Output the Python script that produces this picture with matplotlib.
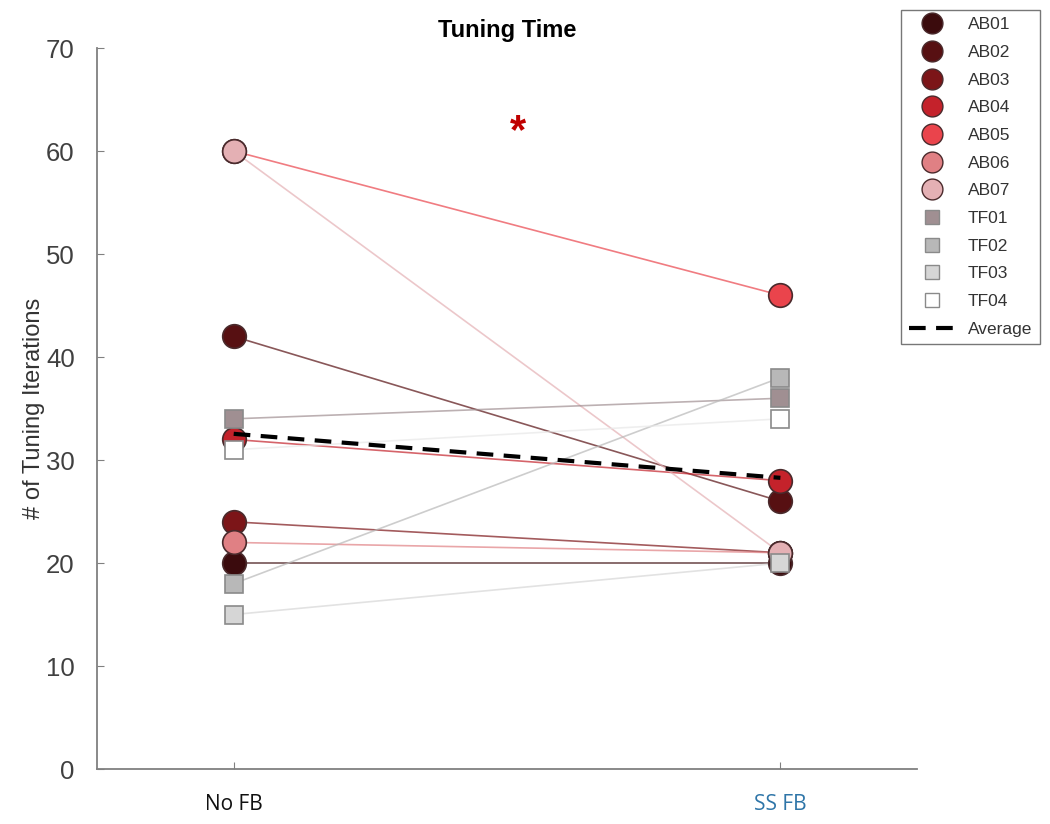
import numpy as np
import matplotlib
matplotlib.use("Agg")
import matplotlib.pyplot as plt
from matplotlib.lines import Line2D

plt.rcParams['font.family'] = ['Liberation Sans', 'DejaVu Sans']

# conditions
conditions = ['No FB', 'SS FB']

# subjects and their tuning iterations (No FB, SS FB)
subjects = ['AB01', 'AB02', 'AB03', 'AB04', 'AB05', 'AB06', 'AB07',
            'TF01', 'TF02', 'TF03', 'TF04']
no_fb = [20, 42, 24, 32, 60, 22, 60, 34, 18, 15, 31]
ss_fb = [20, 26, 21, 28, 46, 21, 21, 36, 38, 20, 34]

colors = ['#3b0b0d', '#571012', '#7c1518', '#c4222b', '#ea444c', '#e08084', '#e4b0b4',
          '#a08f92', '#b8b8b8', '#d6d6d6', '#ffffff']
markers = ['o'] * 7 + ['s'] * 4

# average line
avg = [np.mean(no_fb), np.mean(ss_fb)]

fig = plt.figure(figsize=(10.5, 8.24), dpi=100)
ax = fig.add_axes([0.0924, 0.0667, 0.781, 0.875])

x = [1, 2]
handles = []
for i, name in enumerate(subjects):
    is_ab = markers[i] == 'o'
    line_col = colors[i] if colors[i] != '#ffffff' else '#e8e8e8'
    ax.plot(x, [no_fb[i], ss_fb[i]], color=line_col, lw=1.2, alpha=0.7, zorder=2)
    ms = 17 if is_ab else 12.5
    edge = '#4a2a2c' if is_ab else '#8a8a8a'
    ax.plot(x, [no_fb[i], ss_fb[i]], linestyle='none', marker=markers[i], ms=ms,
            mfc=colors[i], mec=edge, mew=1.2, zorder=3 + i * 0.01)
    handles.append(Line2D([], [], linestyle='none', marker=markers[i],
                          ms=15 if is_ab else 10, mfc=colors[i], mec=edge, mew=1.0,
                          label=name))

ax.plot(x, avg, color='black', lw=3, linestyle=(0, (4, 2.5)), zorder=5)
handles.append(Line2D([], [], color='black', lw=3, linestyle=(0, (4, 2.5)), label='Average'))

# significance marker
ax.text(1.52, 61.8, '*', color='#c00000', fontsize=30, fontweight='bold',
        ha='center', va='center')

ax.set_xlim(0.75, 2.25)
ax.set_ylim(0, 70)
ax.set_yticks(range(0, 71, 10))
ax.set_xticks(x)
ax.set_xticklabels(conditions, family=['Open Sans', 'DejaVu Sans'], fontsize=15)
ax.get_xticklabels()[0].set_color('#111111')
ax.get_xticklabels()[1].set_color('#2e75a8')
ax.tick_params(axis='x', direction='in', length=5, color='#808080', pad=18)
ax.tick_params(axis='y', direction='in', length=5, color='#808080', labelsize=18.5,
               labelcolor='#404040', pad=16)
for s in ['top', 'right']:
    ax.spines[s].set_visible(False)
for s in ['left', 'bottom']:
    ax.spines[s].set_color('#808080')
    ax.spines[s].set_linewidth(1.3)

ax.set_ylabel('# of Tuning Iterations', fontsize=17, color='#333333', labelpad=1)
ax.set_title('Tuning Time', fontsize=17, fontweight='bold', pad=8)

leg = fig.legend(handles=handles, loc='upper right', bbox_to_anchor=(0.999, 0.999),
                 fontsize=12.5, frameon=True, fancybox=False, edgecolor='#555555',
                 handlelength=2.6, labelspacing=0.72, borderpad=0.45, handletextpad=0.8)
for t in leg.get_texts():
    t.set_color('#333333')

fig.savefig('out.png', dpi=100)
